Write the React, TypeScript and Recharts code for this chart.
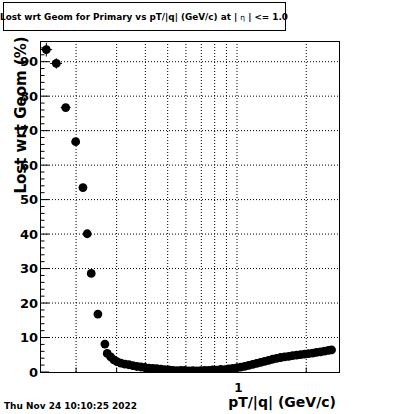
import { ScatterChart, Scatter, XAxis, YAxis, CartesianGrid, ErrorBar } from 'recharts';

// pT/|q| bin centres (GeV/c) and the "lost wrt geom" fraction (%)
const PT_VALUES = [
  0.1485, 0.1641, 0.1803, 0.1992, 0.2142, 0.2236, 0.2327, 0.2488, 0.2668, 0.2731,
  0.2825, 0.2919, 0.3009, 0.3131, 0.3258, 0.3391, 0.3529, 0.3673, 0.3823, 0.3979,
  0.4141, 0.4309, 0.4485, 0.4668, 0.4858, 0.5056, 0.5262, 0.5476, 0.5699, 0.5932,
  0.6173, 0.6425, 0.6687, 0.6959, 0.7243, 0.7537, 0.7844, 0.8164, 0.8497, 0.8843,
  0.9204, 0.9581, 0.997, 1.0375, 1.08, 1.124, 1.17, 1.217, 1.267, 1.318,
  1.372, 1.428, 1.486, 1.547, 1.61, 1.676, 1.744, 1.815, 1.889, 1.966,
  2.046, 2.13, 2.216, 2.307, 2.401, 2.499, 2.575,
];
const LOST_PCT = [
  93.5, 89.5, 76.7, 66.8, 53.5, 40.1, 28.6, 16.8, 8.1, 5.4,
  4.4, 3.5, 3.0, 2.6, 2.3, 2.1, 1.85, 1.6, 1.45, 1.3,
  1.15, 1.05, 0.95, 0.85, 0.7, 0.6, 0.45, 0.4, 0.5, 0.45,
  0.35, 0.4, 0.3, 0.4, 0.5, 0.45, 0.6, 0.55, 0.75, 0.7,
  0.9, 1.05, 1.2, 1.4, 1.65, 1.9, 2.2, 2.5, 2.8, 3.1,
  3.4, 3.7, 3.95, 4.2, 4.4, 4.55, 4.75, 4.9, 5.05, 5.2,
  5.35, 5.5, 5.7, 5.85, 6.05, 6.25, 6.4,
];
// errors on the first bins (the rest are hidden under the markers)
const PT_ERR = [0.0089, 0.0098, 0.0089, 0.008];
const LOST_ERR = [2.0, 1.5, 0.8, 0.7];

const X_TICKS = [0.2, 0.3, 0.4, 0.5, 0.6, 0.7, 0.8, 0.9, 1, 2];
const X_GRID = [0.2, 0.3, 0.4, 0.5, 0.6, 0.7, 0.8, 0.9, 1, 2];
const Y_TICKS = [
  0, 2, 4, 6, 8, 10, 12, 14, 16, 18, 20, 22, 24, 26, 28, 30, 32, 34, 36, 38,
  40, 42, 44, 46, 48, 50, 52, 54, 56, 58, 60, 62, 64, 66, 68, 70, 72, 74, 76, 78,
  80, 82, 84, 86, 88, 90, 92, 94,
];
const Y_GRID = [10, 20, 30, 40, 50, 60, 70, 80, 90];
const X_DOMAIN = [0.1394, 2.775];
const Y_DOMAIN = [0, 96];

const data = PT_VALUES.map((x, i) => ({
  x,
  y: LOST_PCT[i],
  ex: PT_ERR[i] ?? 0,
  ey: LOST_ERR[i] ?? 0,
}));

const W = 400;
const H = 414;
const PLOT = { left: 40, top: 41, right: 339, bottom: 372 };
const FONT = '"DejaVu Sans", sans-serif';

const YTick = ({ y, payload }: any) => {
  const v = payload.value;
  const major = v % 10 === 0;
  return (
    <g>
      <line x1={PLOT.left} x2={PLOT.left + (major ? 9 : 4.5)} y1={y} y2={y} stroke="#000" />
      {major && (
        <text x={38} y={y} dy="0.36em" textAnchor="end" fontFamily={FONT} fontWeight="bold" fontSize={13} fill="#000">
          {v}
        </text>
      )}
    </g>
  );
};

const XTick = ({ x, payload }: any) => {
  const v = payload.value;
  const major = v === 1;
  return (
    <g>
      <line x1={x} x2={x} y1={PLOT.bottom} y2={PLOT.bottom - (major ? 9 : 4.5)} stroke="#000" />
      {major && (
        <text x={x + 1.5} y={392} textAnchor="middle" fontFamily={FONT} fontWeight="bold" fontSize={12} fill="#000">
          1
        </text>
      )}
    </g>
  );
};

const Marker = ({ cx, cy }: any) => <circle cx={cx} cy={cy} r={4.4} fill="#000" />;

export default function App() {
  return (
    <div style={{ position: 'absolute', left: 0, top: 0, width: W, height: H, background: '#fff' }}>
      <ScatterChart
        width={W}
        height={H}
        margin={{ top: PLOT.top, right: W - PLOT.right, bottom: 12, left: 0 }}
      >
        <CartesianGrid
          stroke="#000"
          strokeDasharray="1 2"
          horizontalValues={Y_GRID}
          verticalValues={X_GRID}
        />
        <XAxis
          dataKey="x"
          type="number"
          scale="log"
          domain={X_DOMAIN}
          allowDataOverflow
          ticks={X_TICKS}
          interval={0}
          tick={<XTick />}
          tickLine={false}
          axisLine={false}
          height={30}
        />
        <YAxis
          dataKey="y"
          type="number"
          domain={Y_DOMAIN}
          allowDataOverflow
          ticks={Y_TICKS}
          interval={0}
          tick={<YTick />}
          tickLine={false}
          axisLine={false}
          width={40}
        />
        <Scatter data={data} shape={<Marker />} isAnimationActive={false}>
          <ErrorBar dataKey="ey" direction="y" width={0} stroke="#000" strokeWidth={1} />
          <ErrorBar dataKey="ex" direction="x" width={0} stroke="#000" strokeWidth={1} />
        </Scatter>
      </ScatterChart>
      <svg
        width={W}
        height={H}
        style={{ position: 'absolute', left: 0, top: 0, pointerEvents: 'none' }}
      >
        <rect
          x={PLOT.left + 0.5}
          y={PLOT.top + 0.5}
          width={PLOT.right - PLOT.left}
          height={PLOT.bottom - PLOT.top}
          fill="none"
          stroke="#000"
        />
        <rect x={3.5} y={2.5} width={282} height={28} fill="none" stroke="#000" />
        <text x={0} y={19.5} fontFamily={FONT} fontWeight="bold" fontSize={8.85} fill="#000">
          Lost wrt Geom for Primary vs pT/|q| (GeV/c) at |{' '}
          <tspan fontWeight="normal" fontSize={7.5}>η</tspan> | &lt;= 1.0
        </text>
        <text
          x={26}
          y={115}
          transform="rotate(-90 26 115)"
          textAnchor="middle"
          fontFamily={FONT}
          fontWeight="bold"
          fontSize={15}
          fill="#000"
        >
          Lost wrt Geom (%)
        </text>
        <text x={336} y={406.5} textAnchor="end" fontFamily={FONT} fontWeight="bold" fontSize={14} fill="#000">
          pT/|q| (GeV/c)
        </text>
        <text
          x={4}
          y={408.5}
          textLength={133}
          lengthAdjust="spacingAndGlyphs"
          fontFamily={FONT}
          fontWeight="bold"
          fontSize={9.5}
          fill="#000"
        >
          Thu Nov 24 10:10:25 2022
        </text>
      </svg>
    </div>
  );
}
